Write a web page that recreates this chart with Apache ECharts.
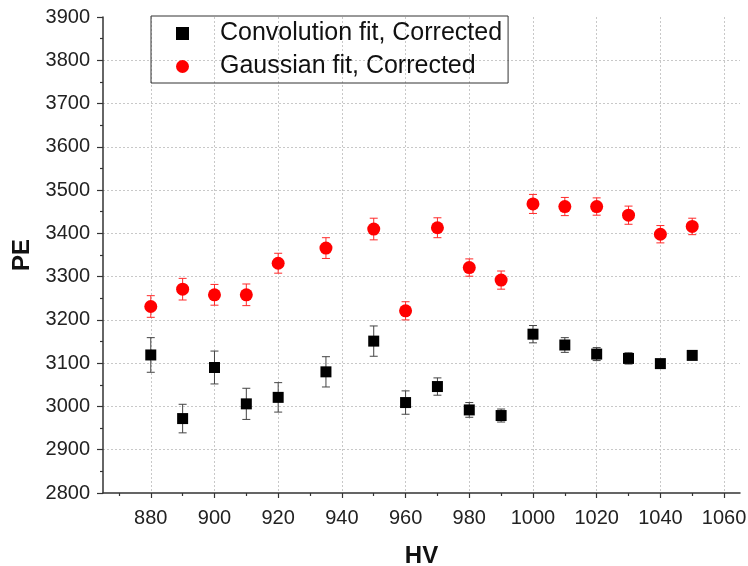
<!DOCTYPE html>
<html>
<head>
<meta charset="utf-8">
<script src="https://cdn.jsdelivr.net/npm/echarts@6/dist/echarts.min.js"></script>
<style>
  html, body { margin: 0; padding: 0; background: #fff; }
  #chart { width: 748px; height: 566px; }
</style>
</head>
<body>
<div id="chart"></div>
<script>
// High voltage settings (x)
const hv = [880, 890, 900, 910, 920, 935, 950, 960, 970, 980, 990, 1000, 1010, 1020, 1030, 1040, 1050];

// Convolution fit, corrected PE and its uncertainty
const convPE  = [3119, 2972, 3090, 3006, 3021, 3080, 3151, 3009, 3046, 2992, 2979, 3167, 3142, 3121, 3111, 3099, 3118];
const convErr = [40, 33, 38, 36, 34, 35, 35, 27, 20, 17, 15, 20, 17, 15, 13, 9, 9];

// Gaussian fit, corrected PE and its uncertainty
const gaussPE  = [3231, 3271, 3258, 3258, 3331, 3366, 3410, 3221, 3413, 3321, 3292, 3468, 3462, 3462, 3442, 3398, 3416];
const gaussErr = [25, 25, 24, 25, 23, 24, 25, 21, 23, 20, 21, 22, 21, 20, 21, 20, 19];

// Axis tick positions
const xMajorTicks = [880, 900, 920, 940, 960, 980, 1000, 1020, 1040, 1060];
const xMinorTicks = [870, 890, 910, 930, 950, 970, 990, 1010, 1030, 1050];

const seriesNames = ['Convolution fit, Corrected', 'Gaussian fit, Corrected'];

const FONT = "'Liberation Sans', Arial, Helvetica, sans-serif";
const AXIS_COLOR = '#333';

function errorData(xs, ys, errs) {
  return xs.map((x, i) => [x, ys[i] - errs[i], ys[i] + errs[i]]);
}

function errorBarRenderer(color, capHalf) {
  return function (params, api) {
    const x = api.value(0);
    const lo = api.coord([x, api.value(1)]);
    const hi = api.coord([x, api.value(2)]);
    const style = { stroke: color, lineWidth: 1 };
    return {
      type: 'group',
      children: [
        { type: 'line', shape: { x1: hi[0], y1: hi[1], x2: lo[0], y2: lo[1] }, style },
        { type: 'line', shape: { x1: hi[0] - capHalf, y1: hi[1], x2: hi[0] + capHalf, y2: hi[1] }, style },
        { type: 'line', shape: { x1: lo[0] - capHalf, y1: lo[1], x2: lo[0] + capHalf, y2: lo[1] }, style }
      ]
    };
  };
}

const plainNumber = (v) => String(v);

const chart = echarts.init(document.getElementById('chart'), null, { renderer: 'canvas' });

chart.setOption({
  animation: false,
  backgroundColor: '#fff',
  textStyle: { fontFamily: FONT },
  grid: { left: 103, right: 8, top: 17, bottom: 73, containLabel: false, outerBoundsMode: 'none' },
  legend: {
    orient: 'vertical',
    left: 151,
    top: 16,
    padding: [5, 6, 4, 25],
    itemGap: 8,
    itemWidth: 13,
    itemHeight: 13,
    borderColor: '#333',
    borderWidth: 1,
    textStyle: { fontFamily: FONT, fontSize: 25, color: '#111', padding: [0, 0, 0, 26] },
    data: [
      { name: seriesNames[0], icon: 'path://M0,0H10V10H0Z' },
      { name: seriesNames[1], icon: 'circle' }
    ]
  },
  xAxis: [
    {
      type: 'value',
      min: 865,
      max: 1065,
      position: 'bottom',
      name: 'HV',
      nameLocation: 'middle',
      nameGap: 51,
      nameTextStyle: { fontFamily: FONT, fontSize: 24, fontWeight: 'bold', color: '#111' },
      axisLine: { show: true, lineStyle: { color: AXIS_COLOR, width: 1.5 } },
      axisTick: { show: true, length: 5, customValues: xMajorTicks, lineStyle: { color: AXIS_COLOR, width: 1.2 } },
      axisLabel: { customValues: xMajorTicks, formatter: plainNumber, fontFamily: FONT, fontSize: 20, color: '#222', margin: 15 },
      splitLine: { show: true, lineStyle: { color: '#c8c8c8', type: [2, 2], width: 1 } }
    },
    {
      type: 'value',
      min: 865,
      max: 1065,
      position: 'bottom',
      axisLine: { show: false },
      axisTick: { show: true, length: 3, customValues: xMinorTicks, lineStyle: { color: AXIS_COLOR, width: 1.2 } },
      axisLabel: { show: false },
      splitLine: { show: false }
    }
  ],
  yAxis: {
    type: 'value',
    min: 2800,
    max: 3900,
    interval: 100,
    name: 'PE',
    nameLocation: 'middle',
    nameGap: 60,
    nameTextStyle: { fontFamily: FONT, fontSize: 24, fontWeight: 'bold', color: '#111' },
    axisLine: { show: true, lineStyle: { color: AXIS_COLOR, width: 1.5 } },
    axisTick: { show: true, length: 6, lineStyle: { color: AXIS_COLOR, width: 1.2 } },
    minorTick: { show: true, splitNumber: 2, length: 3, lineStyle: { color: AXIS_COLOR, width: 1.2 } },
    axisLabel: { formatter: plainNumber, fontFamily: FONT, fontSize: 20, color: '#222', margin: 13 },
    splitLine: { show: true, showMinLine: false, showMaxLine: false, lineStyle: { color: '#c8c8c8', type: [2, 2], width: 1 } }
  },
  series: [
    {
      name: 'convErrorBars',
      type: 'custom',
      xAxisIndex: 0,
      renderItem: errorBarRenderer('#444', 4),
      encode: { x: 0, y: [1, 2] },
      data: errorData(hv, convPE, convErr),
      z: 2,
      silent: true
    },
    {
      name: 'gaussErrorBars',
      type: 'custom',
      xAxisIndex: 0,
      renderItem: errorBarRenderer('#ff2a2a', 4),
      encode: { x: 0, y: [1, 2] },
      data: errorData(hv, gaussPE, gaussErr),
      z: 2,
      silent: true
    },
    {
      name: seriesNames[0],
      type: 'scatter',
      xAxisIndex: 0,
      symbol: 'rect',
      symbolSize: 11,
      itemStyle: { color: '#000', opacity: 1 },
      data: hv.map((x, i) => [x, convPE[i]]),
      z: 3
    },
    {
      name: seriesNames[1],
      type: 'scatter',
      xAxisIndex: 0,
      symbol: 'circle',
      symbolSize: 13,
      itemStyle: { color: '#ff0000', opacity: 1 },
      data: hv.map((x, i) => [x, gaussPE[i]]),
      z: 3
    }
  ]
});
</script>
</body>
</html>
